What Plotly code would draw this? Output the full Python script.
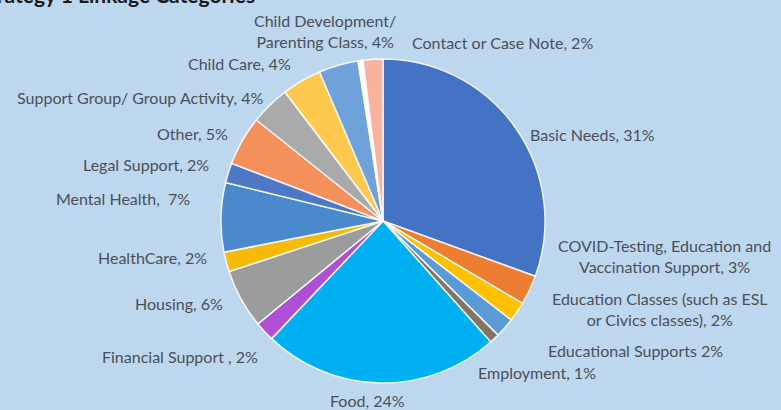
import plotly.graph_objects as go

# Linkage categories, clockwise from 12 o'clock
categories = [
    "Basic Needs", "COVID-Testing, Education and Vaccination Support",
    "Education Classes (such as ESL or Civics classes)", "Educational Supports",
    "Employment", "Food", "Financial Support", "Housing", "HealthCare",
    "Mental Health", "Legal Support", "Other", "Support Group/ Group Activity",
    "Child Care", "Child Development/ Parenting Class", "Unassigned",
    "Contact or Case Note",
]
percent = [31, 3, 2, 2, 1, 24, 2, 6, 2, 7, 2, 5, 4, 4, 4, 0.5, 2]

# Label text as shown beside each slice (None = not labelled)
label_text = [
    "Basic Needs, 31%",
    "COVID-Testing, Education and<br>Vaccination Support, 3%",
    "Education Classes (such as ESL<br>or Civics classes), 2%",
    "Educational Supports 2%",
    "Employment, 1%",
    "Food, 24%",
    "Financial Support , 2%",
    "Housing, 6%",
    "HealthCare, 2%",
    "Mental Health,  7%",
    "Legal Support, 2%",
    "Other, 5%",
    "Support Group/ Group Activity, 4%",
    "Child Care, 4%",
    "Child Development/<br>Parenting Class, 4%",
    None,
    "Contact or Case Note, 2%",
]

colors = [
    "#4472C4", "#ED7D31", "#FFC000", "#5B9BD5", "#857463", "#00B0F0",
    "#AE4FD6", "#9C9C9C", "#F7BA0A", "#4A89CC", "#4C78C6", "#F3905C",
    "#AAAAAA", "#FFC94F", "#6FA1DA", "#FFFFFF", "#F7B3A0",
]

# Label centres in pixels (x from left, y from top) of a 781x410 canvas
label_px = [
    (592, 134), (664, 256), (660, 309), (635, 350), (537, 372), (367, 400),
    (180, 356), (179, 303), (152, 257), (123, 198), (146, 164), (192, 133),
    (140, 97), (240, 63), (325, 31), None, (502, 43),
]

W, H = 781, 410
cx, cy, r = 383, 221, 162

fig = go.Figure()
fig.add_trace(go.Pie(
    labels=categories,
    values=percent,
    sort=False,
    direction="clockwise",
    rotation=0,
    textinfo="none",
    hoverinfo="label+value",
    marker=dict(colors=colors, line=dict(color="rgba(255,255,255,0.85)", width=1.5)),
    domain=dict(x=[(cx - r) / W, (cx + r) / W], y=[(H - cy - r) / H, (H - cy + r) / H]),
    showlegend=False,
))

annotations = []
for txt, pos in zip(label_text, label_px):
    if txt is None:
        continue
    annotations.append(dict(
        text=txt, x=pos[0] / W, y=1 - pos[1] / H, xref="paper", yref="paper",
        xanchor="center", yanchor="middle", showarrow=False, align="center",
        font=dict(family="Lato", size=16, color="#4A5058"),
    ))

# Chart heading, partly running off the top edge of the canvas
annotations.append(dict(
    text="<b>Strategy 1 Linkage Categories</b>", x=-24 / W, y=1 + 5 / H,
    xref="paper", yref="paper", xanchor="left", yanchor="middle",
    showarrow=False, font=dict(family="Lato", size=21, color="#1A1A1A"),
))

fig.update_layout(
    width=W, height=H,
    margin=dict(l=0, r=0, t=0, b=0),
    paper_bgcolor="#BDD7EE",
    plot_bgcolor="#BDD7EE",
    annotations=annotations,
)

fig.write_html("out.html", config={"displayModeBar": False})
